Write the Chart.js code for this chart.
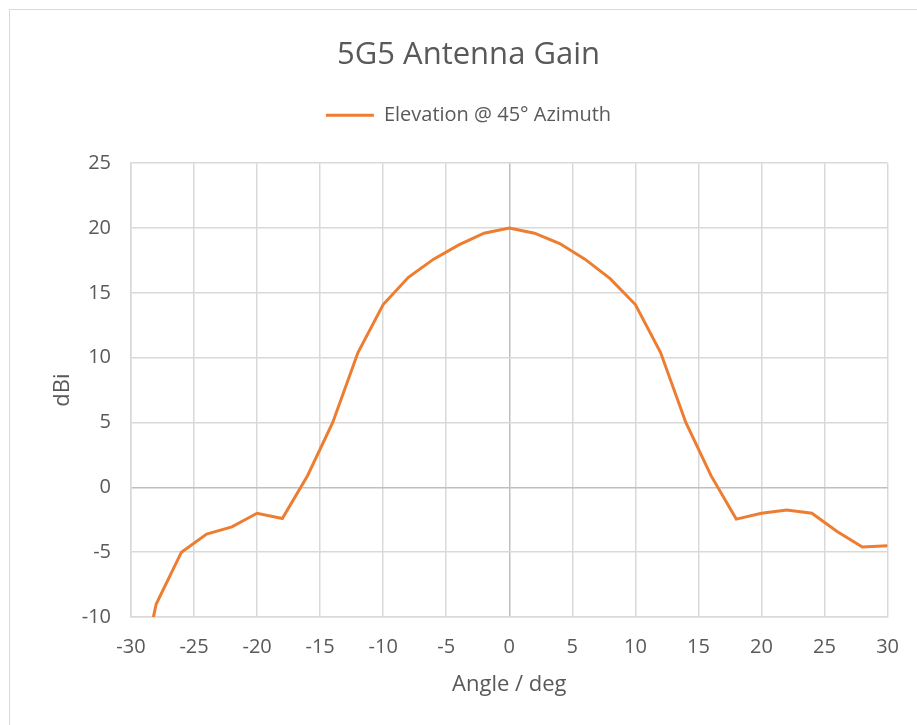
<!DOCTYPE html>
<html>
<head>
<meta charset="utf-8">
<script src="https://cdn.jsdelivr.net/npm/chart.js@4.4.0/dist/chart.umd.min.js"></script>
<style>
  html, body { margin: 0; padding: 0; background: #fff; }
  #wrap { position: relative; width: 917px; height: 725px; overflow: hidden; }
  #frame { position: absolute; left: 9px; top: 9px; width: 1000px; height: 1000px;
           border: 1.5px solid #d9d9d9; box-sizing: border-box; }
  #chart { position: absolute; left: 0; top: 0; }
</style>
</head>
<body>
<div id="wrap">
  <div id="frame"></div>
  <canvas id="chart" width="917" height="725"></canvas>
</div>
<script>
// Elevation cut of the 5G5 antenna
const angles = [-30, -28, -26, -24, -22, -20, -18, -16, -14, -12, -10, -8, -6, -4, -2,
                0, 2, 4, 6, 8, 10, 12, 14, 16, 18, 20, 22, 24, 26, 28, 30];
const gain = [-18, -9.0, -5.0, -3.6, -3.05, -2.0, -2.4, 0.9, 5.0, 10.4, 14.1, 16.2, 17.6, 18.7, 19.6,
              20.0, 19.6, 18.8, 17.6, 16.1, 14.1, 10.4, 5.0, 0.9, -2.45, -2.0, -1.75, -2.0, -3.4, -4.6, -4.5];
const seriesName = 'Elevation @ 45° Azimuth';

const textColor = '#595959';
const gridColor = '#d9d9d9';
const zeroColor = '#bfbfbf';
const font = '"Open Sans", "Liberation Sans", sans-serif';

// push the plot area down a bit under the legend
const legendGap = {
    id: 'legendGap',
    beforeInit(chart) {
        const fit = chart.legend.fit;
        chart.legend.fit = function () {
            fit.call(this);
            this.height += 28;
        };
    }
};

const ctx = document.getElementById('chart');

new Chart(ctx.getContext('2d'), {
    type: 'line',
    data: {
        datasets: [{
            label: seriesName,
            data: angles.map((a, i) => ({ x: a, y: gain[i] })),
            borderColor: '#ED7D31',
            backgroundColor: '#ED7D31',
            borderWidth: 3,
            pointRadius: 0,
            tension: 0
        }]
    },
    plugins: [legendGap],
    options: {
        responsive: false,
        animation: false,
        layout: { padding: { top: 37, right: 28, bottom: 0, left: 48 } },
        plugins: {
            title: {
                display: true,
                text: '5G5 Antenna Gain',
                color: textColor,
                font: { family: font, size: 31, weight: 'normal' },
                padding: { top: 0, bottom: 21 }
            },
            legend: {
                labels: {
                    color: textColor,
                    font: { family: font, size: 20 },
                    usePointStyle: true,
                    pointStyle: 'line',
                    pointStyleWidth: 48,
                    boxHeight: 20,
                    padding: 10
                }
            },
            tooltip: { enabled: false }
        },
        scales: {
            x: {
                type: 'linear',
                min: -30,
                max: 30,
                afterFit: (s) => { s.height = 108; },
                ticks: {
                    stepSize: 5,
                    color: textColor,
                    font: { family: font, size: 20 },
                    padding: 18,
                    maxRotation: 0
                },
                grid: {
                    drawTicks: false,
                    color: (c) => c.tick && c.tick.value === 0 ? zeroColor : gridColor,
                    lineWidth: 1.5
                },
                border: { color: gridColor, width: 1.5 },
                title: {
                    display: true,
                    text: 'Angle / deg',
                    color: textColor,
                    font: { family: font, size: 22 },
                    padding: { top: 4, bottom: 27 }
                }
            },
            y: {
                min: -10,
                max: 25,
                afterFit: (s) => { s.width = 131 - 48; },
                ticks: {
                    stepSize: 5,
                    color: textColor,
                    font: { family: font, size: 20 },
                    padding: 20
                },
                grid: {
                    drawTicks: false,
                    color: (c) => c.tick && c.tick.value === 0 ? zeroColor : gridColor,
                    lineWidth: 1.5
                },
                border: { color: gridColor, width: 1.5 },
                title: {
                    display: true,
                    text: 'dBi',
                    color: textColor,
                    font: { family: font, size: 22 },
                    padding: { top: 2, bottom: 2 }
                }
            }
        }
    }
});
</script>
</body>
</html>
